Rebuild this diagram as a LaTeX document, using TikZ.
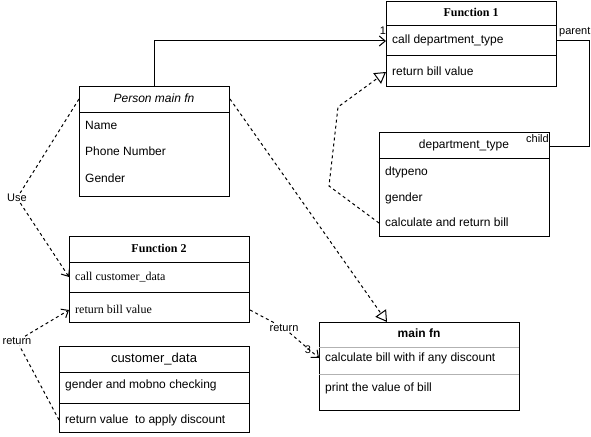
\documentclass[tikz,border=0pt]{standalone}
\usepackage{fontspec}
\setmainfont{Liberation Sans}
\newfontfamily\timesfont{Liberation Serif}
\usepackage{tikz}
\usetikzlibrary{arrows.meta, calc}

\tikzset{
	classbox/.style={draw=black, line width=1pt, anchor=north west, inner sep=0pt, fill=white},
	row/.style={anchor=west, inner sep=0pt, text height=8.5pt, text depth=2.5pt},
	head/.style={anchor=center, inner sep=0pt, text height=8.5pt, text depth=2.5pt},
	lbl/.style={inner sep=1pt, font=\fontsize{11}{13}\selectfont},
	dep/.style={line width=1pt, dash pattern=on 3pt off 3pt},
	usearrow/.style={-{Straight Barb[length=6pt, width=10pt]}},
	triarrow/.style={-{Triangle[open, length=11pt, width=13pt, fill=white]}},
}

\begin{document}
\begin{tikzpicture}[x=1pt, y=-1pt, inner sep=0pt, font=\fontsize{12}{14}\selectfont]
	\useasboundingbox (0,0) rectangle (591,436);

	% Klassen
	\node[classbox, minimum width=170pt, minimum height=85pt](f1) at (386,1) {};
	\node[classbox, minimum width=170pt, minimum height=104pt](dt) at (379,132) {};
	\node[classbox, minimum width=150pt, minimum height=110pt](pm) at (79,86) {};
	\node[classbox, minimum width=180pt, minimum height=86pt](f2) at (69,236) {};
	\node[classbox, minimum width=190pt, minimum height=86pt](cd) at (59,346) {};
	\node[classbox, minimum width=200pt, minimum height=88pt](mf) at (319,322) {};

	% Trennlinien
	\draw[line width=1pt] (386,26) -- (556,26);
	\draw[line width=1pt] (386,56) -- (556,56);
	\draw[line width=1pt] (379,158) -- (549,158);
	\draw[line width=1pt] (79,112) -- (229,112);
	\draw[line width=1pt] (69,262) -- (249,262);
	\draw[line width=1pt] (69,292) -- (249,292);
	\draw[line width=1pt] (59,372) -- (249,372);
	\draw[line width=1pt] (59,403) -- (249,403);
	\draw[line width=1pt, gray!60] (319,347) -- (519,347);
	\draw[line width=1pt, gray!60] (319,374) -- (519,374);

	\node[head](f1_head) at (471,14) {\timesfont\bfseries Function 1};
	\node[head](dt_head) at (464,145) {department\_type};
	\node[head](pm_head) at (154,99) {\itshape Person main fn};
	\node[head](f2_head) at (159,249) {\timesfont\bfseries Function 2};
	\node[head, font=\fontsize{13}{15}\selectfont](cd_head) at (154,359) {customer\_data};
	\node[head](mf_head) at (419,334) {\bfseries main fn};

	\node[row](f1_call) at (392,41) {call department\_type};
	\node[row](f1_ret) at (392,72) {return bill value};

	\node[row](dt_no) at (385,172) {dtypeno};
	\node[row](dt_gen) at (385,198) {gender};
	\node[row](dt_calc) at (385,223) {calculate and return bill};

	\node[row](pm_name) at (85,126) {Name};
	\node[row](pm_phone) at (85,152) {Phone Number};
	\node[row](pm_gender) at (85,179) {Gender};

	\node[row](f2_call) at (75,277) {\timesfont call customer\_data};
	\node[row](f2_ret) at (75,310) {\timesfont return bill value};

	\node[row](cd_gen) at (65,385) {gender and mobno checking};
	\node[row](cd_ret) at (65,420) {return value\ \ to apply discount};

	\node[row](mf_calc) at (325,358) {calculate bill with if any discount};
	\node[row](mf_print) at (325,388) {print the value of bill};

	% Beschriftungen
	\node[lbl](use) at (17,198) {Use};
	\node[lbl](ret_a) at (17,341) {return};
	\node[lbl, fill=white](ret_b) at (284,328) {return};
	\node[lbl](three) at (308,350) {3};
	\node[lbl](one) at (383,31) {1};
	\node[lbl, anchor=base west](parent) at (558,35) {parent};
	\node[lbl, anchor=base east](child) at (550,142) {child};

	\coordinate (pc) at (589,146);
	\coordinate (c1) at (329,186);
	\coordinate (c2) at (338,107);

	% durchgezogene Linien
	\draw[line width=1pt, usearrow] (pm.north) -- (pm.north |- f1_call) -- (f1.west |- f1_call);
	\draw[line width=1pt] (f1.east |- f1_call) -| (pc) -- (dt.east |- pc);

	% gestrichelte Linien
	\draw[dep, triarrow] (dt.west |- dt_calc) -- (c1) -- (c2) -- (f1.west |- f1_ret);
	\draw[dep, usearrow] (pm.west |- pm_head) -- (use) -- (f2.west |- f2_call);
	\draw[dep, triarrow] (pm.east |- pm_head) -- (mf.north -| 387,0);
	\draw[dep, usearrow] (f2.east |- f2_ret) -- (ret_b) -- (mf.west |- mf_calc);
	\draw[dep, usearrow] (cd.west |- cd_ret) -- (ret_a) -- (f2.west |- f2_ret);
\end{tikzpicture}
\end{document}
